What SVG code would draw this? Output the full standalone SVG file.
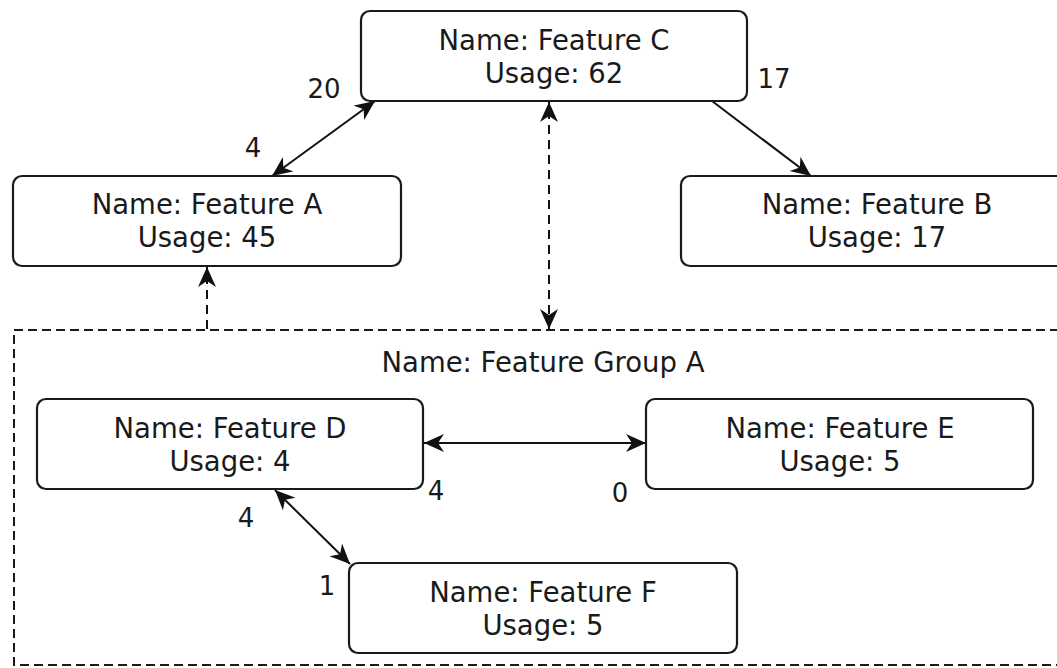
<svg xmlns="http://www.w3.org/2000/svg" width="1057" height="668" viewBox="0 0 1057 668">
<style>
.node{fill:#fff;stroke:#1a1a1a;stroke-width:2.2}
.grp{fill:none;stroke:#1a1a1a;stroke-width:2;stroke-dasharray:9 5}
.t{font-family:"DejaVu Sans",sans-serif;font-size:27.5px;fill:#1a1a1a;text-anchor:middle}
.lbl{font-family:"DejaVu Sans",sans-serif;font-size:26px;fill:#1a1a1a;text-anchor:middle}
.c{fill:none;stroke:#111;stroke-width:2}
.d{fill:none;stroke:#111;stroke-width:2;stroke-dasharray:9 6}
</style>
<defs>
<marker id="ah" markerUnits="userSpaceOnUse" markerWidth="22" markerHeight="20" refX="20" refY="9" orient="auto-start-reverse" viewBox="0 0 22 20">
<path d="M0,0 L20,9 L0,18 L6,9 Z" fill="#111"/>
</marker>
</defs>
<rect width="1057" height="668" fill="#fff"/>
<g id="group-a">
<rect class="grp" x="14" y="330" width="1100" height="335"/>
<text class="t" x="543" y="372">Name: Feature Group A</text>
</g>
<g id="connectors">
<line class="c" x1="272" y1="176" x2="375" y2="101" marker-start="url(#ah)" marker-end="url(#ah)"/>
<line class="c" x1="712" y1="101" x2="811" y2="176" marker-end="url(#ah)"/>
<line class="d" x1="549" y1="329" x2="549" y2="102" marker-start="url(#ah)" marker-end="url(#ah)"/>
<line class="d" x1="207" y1="329" x2="207" y2="267" marker-end="url(#ah)"/>
<line class="c" x1="424" y1="443" x2="646" y2="443" marker-start="url(#ah)" marker-end="url(#ah)"/>
<line class="c" x1="275" y1="490" x2="350" y2="564" marker-start="url(#ah)" marker-end="url(#ah)"/>
</g>
<g id="feature-c">
<rect class="node" x="361" y="11" width="386" height="90" rx="9"/>
<text class="t" x="554" y="50">Name: Feature C</text>
<text class="t" x="554" y="83">Usage: 62</text>
</g>
<g id="feature-a">
<rect class="node" x="13" y="176" width="388" height="90" rx="9"/>
<text class="t" x="207" y="214">Name: Feature A</text>
<text class="t" x="207" y="247">Usage: 45</text>
</g>
<g id="feature-b">
<rect class="node" x="681" y="176" width="392" height="90" rx="9"/>
<text class="t" x="877" y="214">Name: Feature B</text>
<text class="t" x="877" y="247">Usage: 17</text>
</g>
<g id="feature-d">
<rect class="node" x="37" y="399" width="386" height="90" rx="9"/>
<text class="t" x="230" y="438">Name: Feature D</text>
<text class="t" x="230" y="471">Usage: 4</text>
</g>
<g id="feature-e">
<rect class="node" x="646" y="399" width="387" height="90" rx="9"/>
<text class="t" x="840" y="438">Name: Feature E</text>
<text class="t" x="840" y="471">Usage: 5</text>
</g>
<g id="feature-f">
<rect class="node" x="349" y="563" width="388" height="90" rx="9"/>
<text class="t" x="543" y="602">Name: Feature F</text>
<text class="t" x="543" y="635">Usage: 5</text>
</g>
<g id="labels">
<text class="lbl" x="324" y="98">20</text>
<text class="lbl" x="253" y="157">4</text>
<text class="lbl" x="774" y="88">17</text>
<text class="lbl" x="436" y="500">4</text>
<text class="lbl" x="620" y="502">0</text>
<text class="lbl" x="246" y="527">4</text>
<text class="lbl" x="327" y="595">1</text>
</g>
</svg>
